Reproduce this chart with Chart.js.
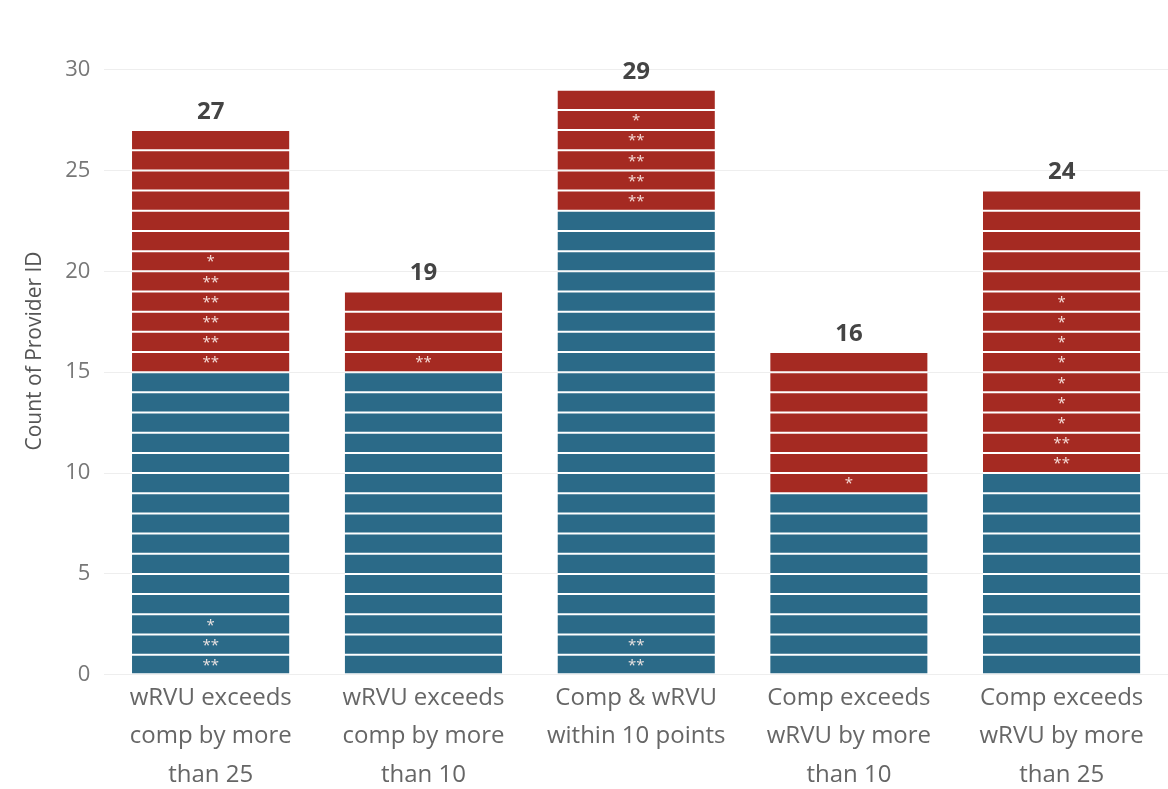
<!DOCTYPE html>
<html>
<head>
<meta charset="utf-8">
<script src="https://cdn.jsdelivr.net/npm/chart.js@4/dist/chart.umd.min.js"></script>
<style>
  html, body { margin: 0; padding: 0; background: #fff; }
  #wrap { width: 1168px; height: 789px; }
</style>
</head>
<body>
<div id="wrap"><canvas id="grafico"></canvas></div>
<script>
// datos del gráfico
const categories = [
    ["wRVU exceeds", "comp by more", "than 25"],
    ["wRVU exceeds", "comp by more", "than 10"],
    ["Comp & wRVU", "within 10 points"],
    ["Comp exceeds", "wRVU by more", "than 10"],
    ["Comp exceeds", "wRVU by more", "than 25"]
];
const blueCounts = [15, 15, 23, 9, 10];
const redCounts = [12, 4, 6, 7, 14];
// segmentos (contando desde abajo, 0 = primero) con marcas de asteriscos
const doubleStarSegments = [[0, 1, 15, 16, 17, 18, 19], [15], [0, 1, 23, 24, 25, 26], [], [10, 11]];
const singleStarSegments = [[2, 20], [], [27], [9], [12, 13, 14, 15, 16, 17, 18]];
const yTicks = [0, 5, 10, 15, 20, 25, 30];

const AZUL = "#2b6a88";
const ROJO = "#a52a22";
const FUENTE = "'Open Sans', 'Noto Sans', sans-serif";

const totales = blueCounts.map((b, i) => b + redCounts[i]);
const maxTotal = Math.max(...totales);

// un dataset por cada unidad apilada, para que cada proveedor sea un bloque
const datasets = [];
for (let s = 0; s < maxTotal; s++) {
    datasets.push({
        data: totales.map(t => (s < t ? 1 : null)),
        backgroundColor: blueCounts.map(b => (s < b ? AZUL : ROJO)),
        borderColor: "#ffffff",
        borderWidth: { top: 1, bottom: 1, left: 0, right: 0 },
        borderSkipped: false,
        stack: "a",
        barPercentage: 0.74,
        categoryPercentage: 1.0
    });
}

// etiquetas: asteriscos dentro de los bloques y totales encima
const etiquetas = {
    id: "etiquetas",
    afterDatasetsDraw(chart) {
        const ctx = chart.ctx;
        ctx.save();
        ctx.textAlign = "center";
        ctx.textBaseline = "middle";
        ctx.fillStyle = "rgba(255, 240, 235, 0.9)";
        ctx.font = "15px " + FUENTE;
        categories.forEach((c, ci) => {
            const marcar = (seg, txt) => {
                const el = chart.getDatasetMeta(seg).data[ci];
                if (!el) return;
                ctx.fillText(txt, el.x, (el.y + el.base) / 2 + 1);
            };
            doubleStarSegments[ci].forEach(s => marcar(s, "**"));
            singleStarSegments[ci].forEach(s => marcar(s, "*"));
        });
        ctx.fillStyle = "#444";
        ctx.font = "bold 24px " + FUENTE;
        totales.forEach((t, ci) => {
            const el = chart.getDatasetMeta(t - 1).data[ci];
            ctx.fillText(String(t), el.x, el.y - 18);
        });
        ctx.restore();
    }
};

new Chart(document.getElementById("grafico").getContext("2d"), {
    type: "bar",
    data: { labels: categories, datasets: datasets },
    options: {
        responsive: true,
        maintainAspectRatio: false,
        animation: false,
        layout: { padding: { top: 14, right: -2, left: 18, bottom: -9 } },
        plugins: { legend: { display: false }, tooltip: { enabled: false } },
        scales: {
            x: {
                stacked: true,
                grid: { display: false, drawTicks: false },
                border: { display: false },
                ticks: {
                    color: "#666",
                    font: { family: FUENTE, size: 24, lineHeight: 1.6 },
                    padding: 4,
                    maxRotation: 0,
                    autoSkip: false
                }
            },
            y: {
                stacked: true,
                min: 0,
                max: 32.1,
                afterBuildTicks: scale => {
                    scale.ticks = yTicks.map(v => ({ value: v }));
                },
                grid: { color: "#eeeeee", drawTicks: false },
                border: { display: false },
                ticks: {
                    color: "#777",
                    font: { family: FUENTE, size: 22 },
                    padding: 14
                },
                title: {
                    display: true,
                    text: "Count of Provider ID",
                    color: "#555",
                    font: { family: FUENTE, size: 21 },
                    padding: { bottom: 4 }
                }
            }
        }
    },
    plugins: [etiquetas]
});
</script>
</body>
</html>
